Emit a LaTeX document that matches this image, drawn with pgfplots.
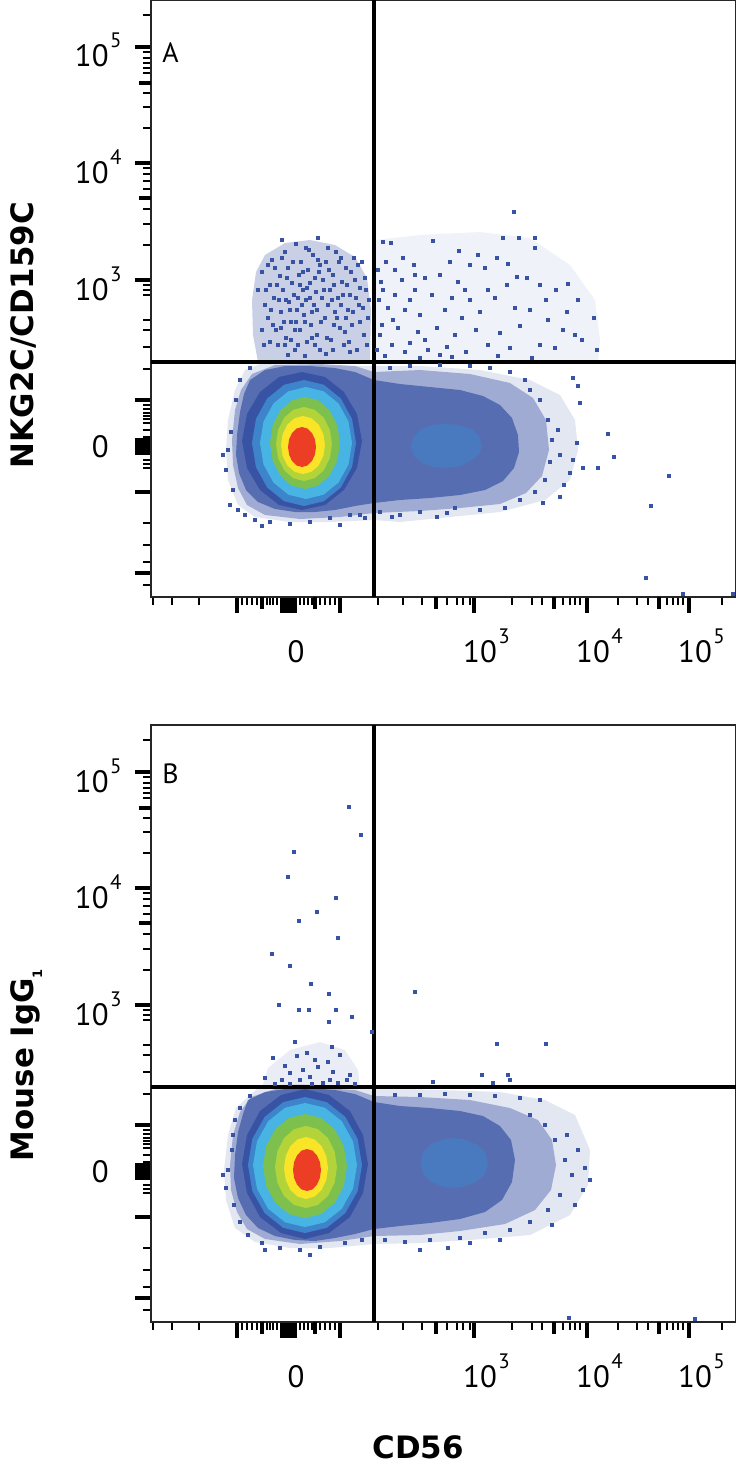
\documentclass[border=0pt]{standalone}
\usepackage{fontspec}
\setmainfont{PT Sans}
\newfontfamily\labfont{DejaVu Sans}
\usepackage{pgfplots}
\pgfplotsset{compat=1.18}
\definecolor{fcsblue}{RGB}{57,83,164}
\definecolor{fcsmid}{RGB}{62,132,202}
\definecolor{fcscyan}{RGB}{72,180,228}
\definecolor{fcsgreen}{RGB}{125,192,78}
\definecolor{fcsyg}{RGB}{178,212,58}
\definecolor{fcsyellow}{RGB}{250,228,40}
\definecolor{fcsred}{RGB}{236,62,36}
\newcommand{\dec}[1]{10\rlap{\hspace{0.8bp}\raisebox{9.5bp}{\fontsize{10.5}{12}\selectfont #1}}}
\newcommand{\yzero}{\raisebox{5bp}{0}}
\pgfplotsset{
  fcsaxis/.style={
    scale only axis, width=292.5bp, height=298.5bp,
    xmin=151, xmax=736,
    axis line style={line width=0.7bp, black!85},
    tick align=outside, xtick pos=bottom, ytick pos=left,
    major tick length=8bp, minor tick length=3.8bp,
    major tick style={line width=2bp, black},
    minor tick style={line width=1bp, black},
    every tick label/.append style={font=\fontsize{15.5}{17}\selectfont, inner sep=0pt},
    xticklabel style={anchor=base, xshift=3bp, yshift=-24.5bp},
    yticklabel style={anchor=base east, xshift=-13bp, yshift=-10bp},
    xtick={237,282,285,288,290,293,295,340,474,587,689},
    xticklabels={,,,,0,,,,\dec{3},\dec{4},\dec{5}},
    extra x ticks={262,315,436,554,659}, extra x tick labels={},
    extra x tick style={major tick length=6bp},
    minor xtick={153,172,199,242,247,252,257,267,270,273,277,300,304,308,312,320,325,330,335,378,403,422,447,457,463,470,512,532,542,563,570,575,580,618,637,648,667,673,678,683,722},
    extra y tick labels={},
    extra y tick style={major tick length=6bp},
    yticklabels={\dec{5},\dec{4},\dec{3},\yzero,,,,,,,},
  },
  dots/.style={only marks, mark=square*, mark size=0.8bp, color=fcsblue, mark options={draw=none, fill=fcsblue}},
  gate/.style={black, line width=1.8bp, no marks},
  lay/.style={draw=none, fill=#1, no marks},
}
\begin{document}
\begin{tikzpicture}
\useasboundingbox (0,0) rectangle (368bp,-735bp);
% ---------------- Panel A ----------------
\begin{axis}[fcsaxis, at={(75.5bp,-298.5bp)}, anchor=south west,
  ymin=-597, ymax=0,
  ytick={-47,-163,-280,-447,-400,-492,-573,-440,-443,-450,-453},
  extra y ticks={-83,-198},
  minor ytick={-15,-52,-58,-63,-68,-73,-93,-107,-128,-168,-174,-181,-189,-209,-224,-245,-285,-290,-295,-320,-330,-347,-369,-405,-409,-413,-416,-419,-423,-430,-437,-460,-464,-468,-523,-545,-562,-585},
]
% sparse halo
\addplot[lay=fcsblue, fill opacity=0.14] coordinates {(260,-364) (360,-366) (420,-366) (480,-370) (530,-380) (560,-395) (575,-420) (578,-450) (570,-480) (545,-500) (500,-512) (440,-518) (400,-522) (374,-520) (330,-522) (290,-522) (255,-517) (238,-505) (228,-480) (226,-450) (228,-420) (235,-390) (245,-370)} -- cycle;
% upper populations
\addplot[lay=fcsblue, fill opacity=0.08] coordinates {(376,-240) (420,-235) (480,-232) (530,-238) (570,-265) (595,-300) (600,-340) (598,-362) (376,-362)} -- cycle;
\addplot[lay=fcsblue, fill opacity=0.27] coordinates {(265,-255) (285,-243) (310,-240) (335,-245) (355,-257) (367,-278) (371,-310) (370,-362) (258,-362) (253,-335) (252,-300) (256,-272)} -- cycle;
% semi-dense
\addplot[lay=fcsblue, fill opacity=0.4] coordinates {(374,-372) (420,-370) (470,-374) (510,-383) (533,-398) (546,-420) (549,-450) (542,-476) (526,-493) (500,-504) (460,-508) (420,-511) (374,-513) (340,-517) (300,-519) (265,-515) (247,-505) (238,-488) (233,-465) (232,-440) (235,-410) (241,-390) (252,-374) (275,-365) (320,-364) (355,-366)} -- cycle;
% dense
\addplot[lay=fcsblue, fill opacity=0.7] coordinates {(250,-380) (265,-370) (285,-366) (310,-366) (335,-368) (355,-372) (374,-380) (400,-384) (430,-387) (460,-390) (483,-396) (500,-405) (512,-418) (518,-435) (519,-452) (514,-468) (503,-481) (485,-490) (460,-495) (430,-498) (400,-500) (374,-503) (355,-506) (335,-510) (315,-512) (295,-512) (275,-509) (258,-502) (246,-490) (239,-473) (236,-455) (237,-435) (240,-412) (244,-394)} -- cycle;
\addplot[lay=fcsmid, fill opacity=0.55] coordinates {(482,-446) (479,-436) (471,-429) (458,-425) (445,-424) (432,-425) (420,-430) (413,-438) (411,-447) (414,-456) (422,-463) (434,-467) (447,-468) (460,-466) (472,-460) (479,-454)} -- cycle;
% left blob levels
\addplot[lay=fcsblue] coordinates {(362,-441) (357,-414) (344,-392) (325,-377) (302,-372) (279,-377) (260,-392) (247,-414) (242,-441) (247,-468) (260,-490) (279,-505) (302,-510) (325,-505) (344,-490) (357,-468)} -- cycle;
\addplot[lay=fcsmid] coordinates {(356,-443) (352,-418.9) (340.8,-398.5) (323.9,-384.8) (304,-380) (284.1,-384.8) (267.2,-398.5) (256,-418.9) (252,-443) (256,-467.1) (267.2,-487.5) (284.1,-501.2) (304,-506) (323.9,-501.2) (340.8,-487.5) (352,-467.1)} -- cycle;
\addplot[lay=fcscyan] coordinates {(352,-443) (348.5,-421.6) (338.5,-403.4) (323.6,-391.3) (306,-387) (288.4,-391.3) (273.5,-403.4) (263.5,-421.6) (260,-443) (263.5,-464.4) (273.5,-482.6) (288.4,-494.7) (306,-499) (323.6,-494.7) (338.5,-482.6) (348.5,-464.4)} -- cycle;
\addplot[lay=fcsgreen] coordinates {(340,-443) (337.3,-425.4) (329.7,-410.5) (318.4,-400.5) (305,-397) (291.6,-400.5) (280.3,-410.5) (272.7,-425.4) (270,-443) (272.7,-460.6) (280.3,-475.5) (291.6,-485.5) (305,-489) (318.4,-485.5) (329.7,-475.5) (337.3,-460.6)} -- cycle;
\addplot[lay=fcsyg] coordinates {(332,-444) (329.9,-429.8) (323.8,-417.8) (314.7,-409.8) (304,-407) (293.3,-409.8) (284.2,-417.8) (278.1,-429.8) (276,-444) (278.1,-458.2) (284.2,-470.2) (293.3,-478.2) (304,-481) (314.7,-478.2) (323.8,-470.2) (329.9,-458.2)} -- cycle;
\addplot[lay=fcsyellow] coordinates {(325,-445) (323.3,-433.9) (318.6,-424.5) (311.4,-418.2) (303,-416) (294.6,-418.2) (287.4,-424.5) (282.7,-433.9) (281,-445) (282.7,-456.1) (287.4,-465.5) (294.6,-471.8) (303,-474) (311.4,-471.8) (318.6,-465.5) (323.3,-456.1)} -- cycle;
\addplot[lay=fcsred] coordinates {(316,-447) (314.9,-439.3) (311.9,-432.9) (307.4,-428.5) (302,-427) (296.6,-428.5) (292.1,-432.9) (289.1,-439.3) (288,-447) (289.1,-454.7) (292.1,-461.1) (296.6,-465.5) (302,-467) (307.4,-465.5) (311.9,-461.1) (314.9,-454.7)} -- cycle;
% events
\addplot[dots] coordinates {(258,-290) (262,-272) (265,-305) (268,-318) (270,-285) (272,-260) (274,-298) (276,-330) (278,-345) (280,-276) (281,-312) (283,-290) (285,-252) (286,-338) (288,-268) (289,-302) (291,-322) (292,-283) (294,-295) (295,-350) (296,-244) (297,-310) (299,-275) (300,-330) (301,-262) (303,-290) (304,-315) (306,-300) (307,-342) (308,-270) (310,-283) (311,-325) (313,-255) (314,-305) (316,-292) (317,-335) (319,-272) (320,-350) (322,-298) (323,-280) (325,-318) (326,-262) (328,-305) (330,-290) (331,-340) (333,-275) (335,-312) (336,-252) (338,-298) (340,-328) (342,-282) (344,-345) (346,-268) (348,-310) (350,-295) (352,-325) (355,-280) (357,-350) (359,-305) (362,-262) (364,-335) (366,-290) (368,-318) (288,-355) (305,-356) (326,-354) (270,-342) (262,-330) (282,-240) (318,-238) (300,-285) (312,-312) (296,-322) (320,-265) (286,-300) (334,-325)};
\addplot[dots] coordinates {(275,-268) (279,-300) (284,-322) (287,-278) (290,-310) (293,-262) (295,-330) (298,-298) (302,-305) (303,-272) (305,-322) (307,-288) (309,-250) (310,-298) (312,-338) (315,-278) (317,-310) (318,-260) (321,-322) (324,-290) (327,-338) (329,-270) (332,-300) (334,-285) (337,-318) (339,-262) (341,-305) (343,-295) (345,-332) (347,-285) (349,-342) (351,-272) (353,-312) (356,-298) (358,-265) (360,-322) (363,-308) (365,-278) (367,-345) (369,-300) (271,-310) (266,-290) (273,-325) (277,-285) (282,-258) (285,-345) (298,-345) (315,-345) (333,-350) (350,-352) (264,-345) (268,-265) (281,-328) (291,-340) (306,-248) (328,-248) (341,-258) (354,-258) (360,-288) (346,-318)};
\addplot[dots] coordinates {(514,-212) (503,-238) (519,-238) (535,-238) (383,-242) (391,-243) (433,-241) (459,-251) (478,-255) (497,-258) (535,-248) (403,-258) (414,-265) (386,-262) (450,-262) (470,-265) (485,-268) (508,-264) (517,-277) (527,-278) (402,-280) (425,-278) (440,-275) (458,-282) (488,-290) (507,-285) (383,-290) (395,-295) (415,-290) (432,-295) (452,-298) (470,-300) (495,-298) (540,-285) (556,-290) (568,-284) (546,-300) (567,-312) (578,-300) (388,-308) (405,-310) (420,-315) (445,-310) (462,-318) (480,-312) (515,-308) (530,-310) (548,-320) (594,-318) (382,-325) (398,-328) (418,-332) (437,-328) (455,-335) (476,-330) (500,-333) (520,-326) (563,-330) (575,-335) (582,-340) (392,-345) (410,-343) (428,-350) (447,-347) (466,-352) (488,-345) (510,-348) (540,-345) (555,-348) (597,-350) (385,-356) (420,-358) (452,-357) (498,-356) (532,-358) (378,-270) (379,-300) (380,-335) (377,-350) (381,-282) (395,-270) (410,-300) (425,-340) (440,-355) (465,-290) (393,-320) (405,-352) (415,-275)};
\addplot[dots] coordinates {(228,-450) (231,-432) (226,-470) (233,-490) (238,-510) (245,-515) (255,-520) (270,-522) (290,-524) (310,-522) (330,-518) (350,-515) (365,-518) (240,-380) (236,-400) (250,-368) (360,-515) (530,-390) (540,-400) (548,-420) (552,-440) (550,-462) (545,-480) (535,-492) (520,-500) (505,-508) (480,-510) (455,-508) (420,-512) (400,-515) (380,-512) (525,-380) (510,-372) (490,-368) (470,-366) (440,-365) (410,-366) (390,-368) (223,-455) (230,-505) (262,-526) (340,-525) (558,-430) (560,-455) (608,-434) (614,-457) (598,-468) (583,-468) (669,-476) (651,-506) (646,-578) (683,-594) (733,-594) (580,-403) (578,-386) (573,-378) (577,-443) (573,-460) (570,-473) (564,-485) (560,-497) (543,-503) (447,-513) (437,-517) (392,-517)};
% gates
\addplot[gate] coordinates {(374,-597) (374,0)};
\addplot[gate] coordinates {(151,-362) (736,-362)};
\node[anchor=base west, inner sep=0pt, font=\fontsize{14}{16}\selectfont] at (axis cs:162,-63) {A};
\end{axis}
% ---------------- Panel B ----------------
\begin{axis}[fcsaxis, at={(75.5bp,-661bp)}, anchor=south west,
  ymin=-1322, ymax=-725,
  ytick={-772,-888,-1005,-1172,-1125,-1217,-1298,-1165,-1168,-1175,-1178},
  extra y ticks={-808,-923},
  minor ytick={-740,-777,-783,-788,-793,-798,-818,-832,-853,-893,-899,-906,-914,-934,-949,-970,-1010,-1015,-1020,-1045,-1055,-1072,-1094,-1130,-1134,-1138,-1141,-1144,-1148,-1155,-1162,-1185,-1189,-1193,-1248,-1270,-1287,-1310},
]
\addplot[lay=fcsblue, fill opacity=0.14] coordinates {(260,-1086) (300,-1084) (374,-1088) (440,-1090) (500,-1092) (545,-1100) (575,-1115) (590,-1150) (588,-1185) (570,-1215) (530,-1235) (470,-1240) (420,-1243) (374,-1244) (330,-1248) (290,-1248) (255,-1242) (235,-1228) (226,-1200) (224,-1170) (228,-1135) (236,-1108)} -- cycle;
\addplot[lay=fcsblue, fill opacity=0.1] coordinates {(262,-1087) (268,-1068) (290,-1050) (320,-1042) (345,-1050) (358,-1070) (360,-1087)} -- cycle;
\addplot[lay=fcsblue, fill opacity=0.4] coordinates {(374,-1096) (420,-1097) (470,-1100) (510,-1108) (538,-1120) (552,-1140) (556,-1165) (551,-1190) (535,-1210) (505,-1224) (460,-1231) (420,-1235) (374,-1236) (340,-1241) (300,-1244) (265,-1239) (247,-1229) (237,-1212) (231,-1190) (230,-1165) (233,-1135) (240,-1112) (251,-1097) (275,-1089) (320,-1088) (355,-1090)} -- cycle;
\addplot[lay=fcsblue, fill opacity=0.7] coordinates {(248,-1100) (265,-1092) (285,-1089) (310,-1088) (335,-1090) (355,-1094) (374,-1102) (400,-1106) (430,-1108) (460,-1111) (483,-1116) (500,-1126) (511,-1140) (515,-1160) (512,-1182) (502,-1200) (485,-1212) (460,-1219) (430,-1223) (400,-1226) (374,-1229) (355,-1234) (335,-1238) (315,-1241) (295,-1240) (275,-1236) (258,-1228) (246,-1215) (238,-1198) (234,-1178) (235,-1155) (238,-1132) (243,-1114)} -- cycle;
\addplot[lay=fcsmid, fill opacity=0.55] coordinates {(488,-1163) (485,-1152) (477,-1145) (466,-1140) (454,-1138) (441,-1140) (430,-1145) (423,-1153) (421,-1163) (423,-1173) (430,-1181) (441,-1186) (454,-1188) (466,-1186) (477,-1181) (485,-1174)} -- cycle;
\addplot[lay=fcsblue] coordinates {(368,-1164) (363,-1135) (350,-1111) (329,-1095) (305,-1089) (281,-1095) (260,-1111) (247,-1135) (242,-1164) (247,-1193) (260,-1217) (281,-1233) (305,-1239) (329,-1233) (350,-1217) (363,-1193)} -- cycle;
\addplot[lay=fcsmid] coordinates {(362,-1165) (357.7,-1139) (345.3,-1116.9) (326.8,-1102.2) (305,-1097) (283.2,-1102.2) (264.7,-1116.9) (252.3,-1139) (248,-1165) (252.3,-1191) (264.7,-1213.1) (283.2,-1227.8) (305,-1233) (326.8,-1227.8) (345.3,-1213.1) (357.7,-1191)} -- cycle;
\addplot[lay=fcscyan] coordinates {(357,-1165) (353,-1141.3) (341.8,-1121.2) (324.9,-1107.7) (305,-1103) (285.1,-1107.7) (268.2,-1121.2) (257,-1141.3) (253,-1165) (257,-1188.7) (268.2,-1208.8) (285.1,-1222.3) (305,-1227) (324.9,-1222.3) (341.8,-1208.8) (353,-1188.7)} -- cycle;
\addplot[lay=fcsgreen] coordinates {(347,-1166) (343.8,-1146.1) (334.7,-1129.2) (321.1,-1118) (305,-1114) (288.9,-1118) (275.3,-1129.2) (266.2,-1146.1) (263,-1166) (266.2,-1185.9) (275.3,-1202.8) (288.9,-1214) (305,-1218) (321.1,-1214) (334.7,-1202.8) (343.8,-1185.9)} -- cycle;
\addplot[lay=fcsyg] coordinates {(337,-1167) (334.6,-1151.3) (327.9,-1138) (317.9,-1129.1) (306,-1126) (294.1,-1129.1) (284.1,-1138) (277.4,-1151.3) (275,-1167) (277.4,-1182.7) (284.1,-1196) (294.1,-1204.9) (306,-1208) (317.9,-1204.9) (327.9,-1196) (334.6,-1182.7)} -- cycle;
\addplot[lay=fcsyellow] coordinates {(328,-1168) (326.3,-1156.1) (321.6,-1146.1) (314.4,-1139.4) (306,-1137) (297.6,-1139.4) (290.4,-1146.1) (285.7,-1156.1) (284,-1168) (285.7,-1179.9) (290.4,-1189.9) (297.6,-1196.6) (306,-1199) (314.4,-1196.6) (321.6,-1189.9) (326.3,-1179.9)} -- cycle;
\addplot[lay=fcsred] coordinates {(321,-1170) (319.9,-1162) (316.9,-1155.2) (312.4,-1150.6) (307,-1149) (301.6,-1150.6) (297.1,-1155.2) (294.1,-1162) (293,-1170) (294.1,-1178) (297.1,-1184.8) (301.6,-1189.4) (307,-1191) (312.4,-1189.4) (316.9,-1184.8) (319.9,-1178)} -- cycle;
\addplot[dots] coordinates {(349,-807) (361,-835) (294,-852) (288,-877) (336,-898) (317,-912) (299,-921) (338,-938) (272,-954) (290,-966) (311,-984) (329,-994) (279,-1005) (299,-1010) (309,-1010) (336,-1010) (352,-1017) (329,-1022) (372,-1032) (415,-992) (497,-1044) (546,-1044) (510,-1080) (482,-1075) (508,-1075) (493,-1083) (433,-1082) (273,-1058) (297,-1056) (307,-1053) (332,-1047) (328,-1062) (318,-1067) (303,-1070) (290,-1073) (282,-1080) (300,-1080) (310,-1077) (333,-1072) (347,-1080) (350,-1075) (330,-1080) (323,-1083) (315,-1060) (295,-1042) (340,-1055) (285,-1066) (265,-1078) (355,-1084) (275,-1084) (312,-1084) (338,-1083) (290,-1084)};
\addplot[dots] coordinates {(228,-1170) (232,-1150) (226,-1188) (234,-1205) (240,-1222) (248,-1235) (262,-1243) (280,-1248) (300,-1250) (320,-1247) (345,-1243) (362,-1240) (235,-1120) (240,-1108) (250,-1096) (233,-1135) (530,-1115) (545,-1125) (555,-1140) (565,-1160) (572,-1175) (560,-1195) (548,-1210) (530,-1222) (510,-1230) (485,-1233) (460,-1238) (430,-1240) (405,-1242) (385,-1240) (578,-1150) (585,-1168) (583,-1190) (575,-1205) (540,-1100) (520,-1098) (495,-1096) (470,-1095) (445,-1094) (420,-1095) (395,-1095) (470,-1243) (448,-1248) (500,-1240) (590,-1180) (569,-1318) (695,-1319) (223,-1175) (265,-1250) (310,-1255) (420,-1250) (567,-1135) (552,-1225)};
\addplot[gate] coordinates {(374,-1322) (374,-725)};
\addplot[gate] coordinates {(151,-1087) (736,-1087)};
\node[anchor=base west, inner sep=0pt, font=\fontsize{14}{16}\selectfont] at (axis cs:162,-783) {B};
\end{axis}
% axis titles
\node[rotate=90, anchor=base, inner sep=0pt, font=\labfont\bfseries\fontsize{15.5}{18}\selectfont] at (16.5bp,-167.5bp) {NKG2C/CD159C};
\node[rotate=90, anchor=base, inner sep=0pt, font=\labfont\bfseries\fontsize{15.5}{18}\selectfont] at (16.5bp,-532.5bp) {Mouse IgG\raisebox{-4.5bp}{\fontsize{6.5}{7}\selectfont 1}};
\node[anchor=base, inner sep=0pt, font=\labfont\bfseries\fontsize{15.5}{18}\selectfont] at (209bp,-729bp) {CD56};
\end{tikzpicture}
\end{document}
